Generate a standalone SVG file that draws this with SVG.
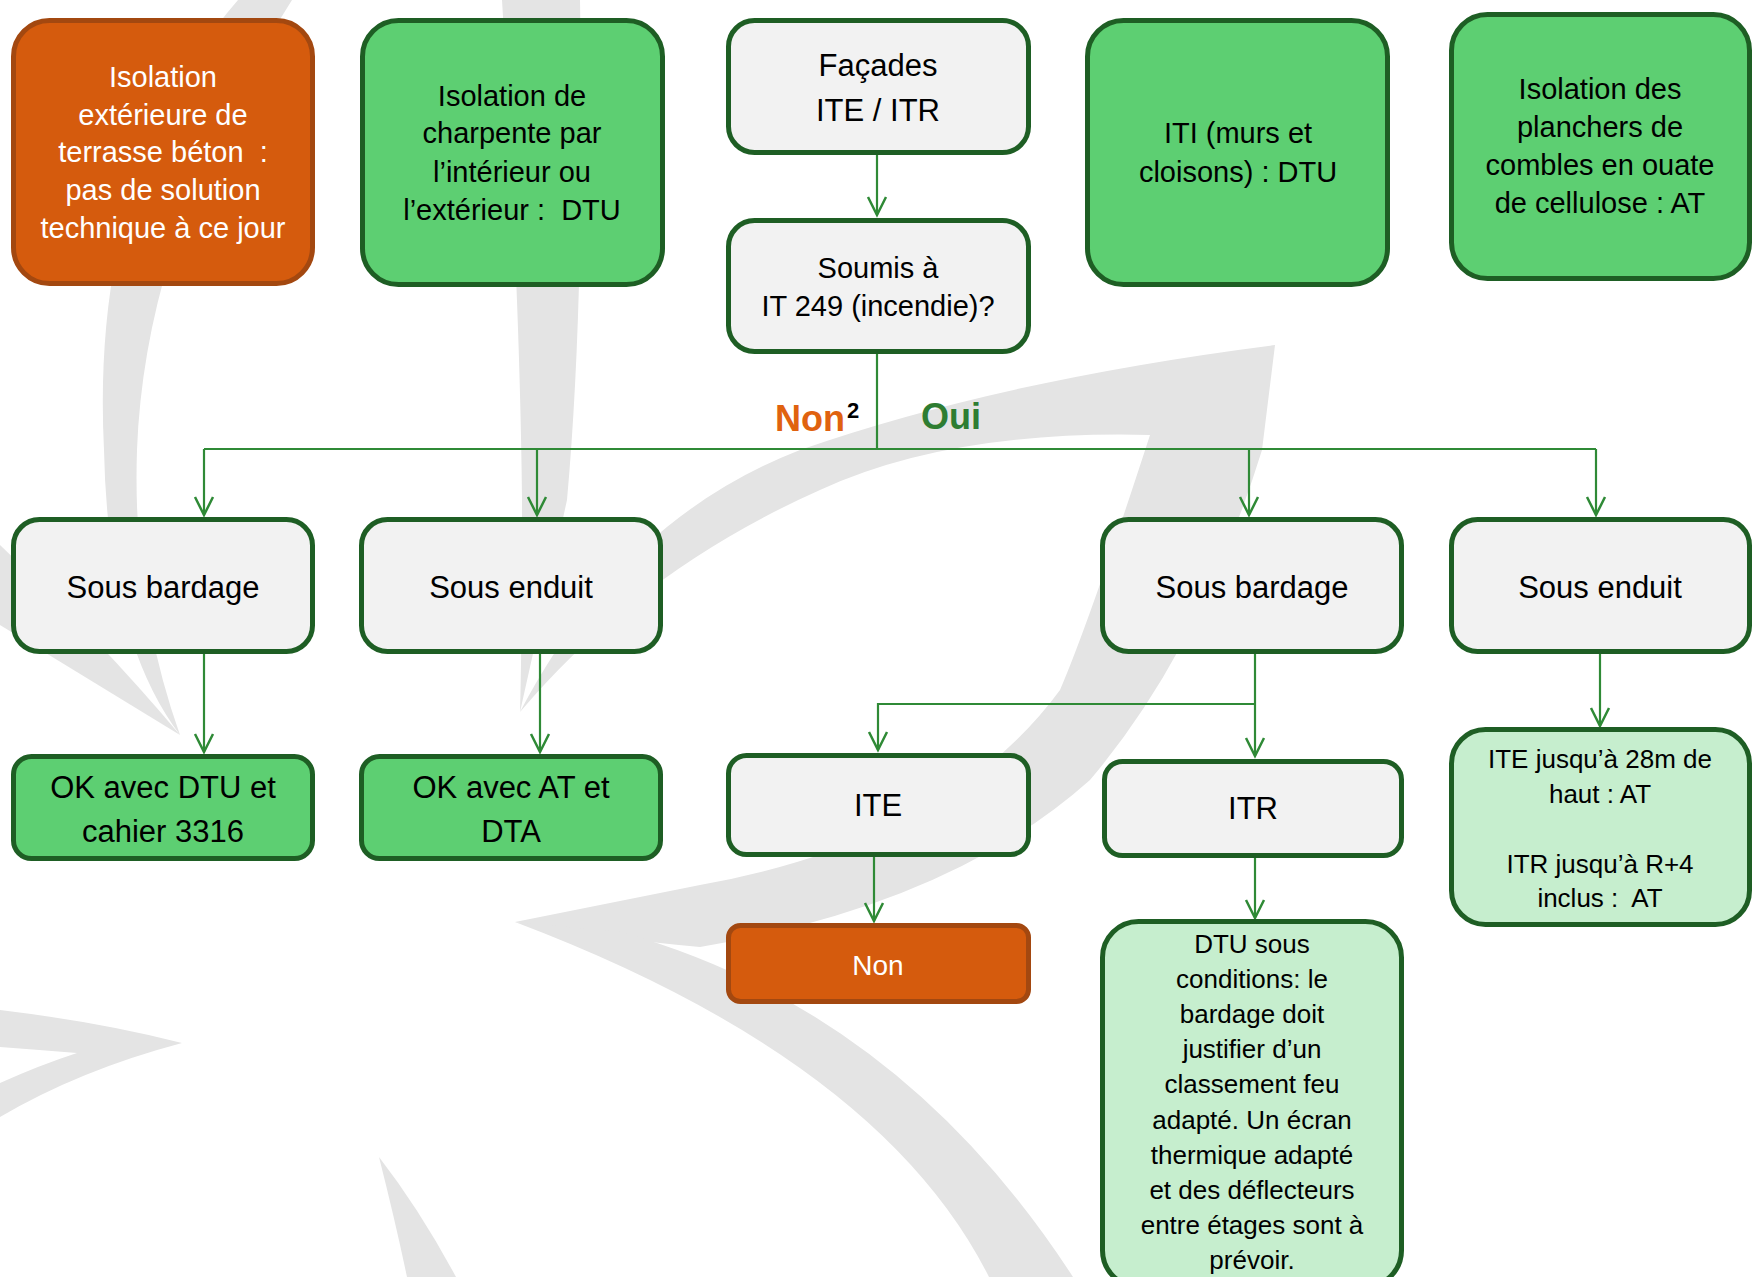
<svg xmlns="http://www.w3.org/2000/svg" width="1758" height="1277" viewBox="0 0 1758 1277">
<defs>
<style>
.t{font-family:"Liberation Sans",Arial,sans-serif;text-anchor:middle;white-space:pre;fill:#000}
.w{fill:#fff}
.s29{font-size:29px}
.s31{font-size:31px}
.s26{font-size:26px}
.box{stroke-width:5}
.org{fill:#D55B0D;stroke:#A34810}
.grn{fill:#5DCF72;stroke:#1E5E24}
.gry{fill:#F2F2F2;stroke:#1E5E24}
.lgr{fill:#C6EECE;stroke:#1E5E24}
.wm{fill:#E4E4E4}
.cn{fill:none;stroke:#2F8A36;stroke-width:2.2}
</style>
<marker id="arr" viewBox="-22 -12 26 24" refX="0" refY="0" markerWidth="26" markerHeight="24" markerUnits="userSpaceOnUse" orient="auto">
<path d="M-18,-9 L0,0 L-18,9" fill="none" stroke="#2F8A36" stroke-width="2.5"/>
</marker>
</defs>
<rect width="1758" height="1277" fill="#fff"/>
<g id="watermark">
<path class="wm" d="M238,0 Q90,170 104,450 Q108,640 180,735 Q132,600 137,450 Q145,230 292,0 Z"/>
<path class="wm" d="M0,545 Q100,640 180,735 Q90,680 0,625 Z"/>
<path class="wm" d="M502,0 Q520,300 522,500 Q522,640 520,712 Q545,600 567,500 Q585,300 580,0 Z"/>
<path class="wm" d="M520,712 Q620,520 800,450 Q1000,380 1275,345 L1262,450 Q1200,650 1090,780 Q950,905 700,947 Q620,940 515,922 Q600,905 700,885 Q950,840 1060,690 Q1090,620 1150,435 Q950,430 820,490 Q640,570 520,712 Z"/>
<path class="wm" d="M515,922 L621,932 Q900,1010 1073,1277 L989,1277 Q880,1060 515,922 Z"/>
<path class="wm" d="M379,1157 Q395,1220 407,1277 L456,1277 Q420,1210 379,1157 Z"/>
<path class="wm" d="M0,1010 Q100,1022 182,1043 Q80,1070 0,1117 L0,1083 Q40,1065 77,1053 Q40,1050 0,1047 Z"/>
</g>
<g id="connectors">
<path class="cn" d="M877,155 V215" marker-end="url(#arr)"/>
<path class="cn" d="M877,353 V449"/>
<path class="cn" d="M204,449 H1596"/>
<path class="cn" d="M204,449 V515" marker-end="url(#arr)"/>
<path class="cn" d="M537,449 V515" marker-end="url(#arr)"/>
<path class="cn" d="M1249,449 V515" marker-end="url(#arr)"/>
<path class="cn" d="M1596,449 V515" marker-end="url(#arr)"/>
<path class="cn" d="M204,654 V752" marker-end="url(#arr)"/>
<path class="cn" d="M540,654 V752" marker-end="url(#arr)"/>
<path class="cn" d="M1255,654 V756" marker-end="url(#arr)"/>
<path class="cn" d="M1255,704 H878 V750" marker-end="url(#arr)"/>
<path class="cn" d="M874,857 V921" marker-end="url(#arr)"/>
<path class="cn" d="M1255,858 V918" marker-end="url(#arr)"/>
<path class="cn" d="M1600,654 V726" marker-end="url(#arr)"/>
</g>
<g id="n-terrasse">
<rect class="box org" x="13.5" y="20.5" width="299" height="263" rx="36"/>
<text class="t w s29" x="163" y="87">Isolation</text>
<text class="t w s29" x="163" y="125">extérieure de</text>
<text class="t w s29" x="163" y="162">terrasse béton  :</text>
<text class="t w s29" x="163" y="200">pas de solution</text>
<text class="t w s29" x="163" y="238">technique à ce jour</text>
</g>
<g id="n-charpente">
<rect class="box grn" x="362.5" y="20.5" width="300" height="264" rx="36"/>
<text class="t s29" x="512" y="106">Isolation de</text>
<text class="t s29" x="512" y="143">charpente par</text>
<text class="t s29" x="512" y="182">l’intérieur ou</text>
<text class="t s29" x="512" y="220">l’extérieur :  DTU</text>
</g>
<g id="n-facades">
<rect class="box gry" x="728.5" y="20.5" width="300" height="132" rx="26"/>
<text class="t s31" x="878" y="76">Façades</text>
<text class="t s31" x="878" y="121">ITE / ITR</text>
</g>
<g id="n-soumis">
<rect class="box gry" x="728.5" y="220.5" width="300" height="131" rx="26"/>
<text class="t s29" x="878" y="278">Soumis à</text>
<text class="t s29" x="878" y="316">IT 249 (incendie)?</text>
</g>
<g id="n-iti">
<rect class="box grn" x="1087.5" y="20.5" width="300" height="264" rx="36"/>
<text class="t s29" x="1238" y="143">ITI (murs et</text>
<text class="t s29" x="1238" y="182">cloisons) : DTU</text>
</g>
<g id="n-planchers">
<rect class="box grn" x="1451.5" y="14.5" width="298" height="264" rx="36"/>
<text class="t s29" x="1600" y="99">Isolation des</text>
<text class="t s29" x="1600" y="137">planchers de</text>
<text class="t s29" x="1600" y="175">combles en ouate</text>
<text class="t s29" x="1600" y="213">de cellulose : AT</text>
</g>
<g id="labels">
<text x="845" y="431" style="font-family:'Liberation Sans',Arial,sans-serif;font-weight:bold;font-size:36px;fill:#E0620F;text-anchor:end">Non</text>
<text x="847" y="418" style="font-family:'Liberation Sans',Arial,sans-serif;font-weight:bold;font-size:22px;fill:#000">2</text>
<text x="921" y="429" style="font-family:'Liberation Sans',Arial,sans-serif;font-weight:bold;font-size:36px;fill:#2E7D32">Oui</text>
</g>
<g id="n-bardage-non">
<rect class="box gry" x="13.5" y="519.5" width="299" height="132" rx="26"/>
<text class="t s31" x="163" y="598">Sous bardage</text>
</g>
<g id="n-enduit-non">
<rect class="box gry" x="361.5" y="519.5" width="299" height="132" rx="26"/>
<text class="t s31" x="511" y="598">Sous enduit</text>
</g>
<g id="n-bardage-oui">
<rect class="box gry" x="1102.5" y="519.5" width="299" height="132" rx="26"/>
<text class="t s31" x="1252" y="598">Sous bardage</text>
</g>
<g id="n-enduit-oui">
<rect class="box gry" x="1451.5" y="519.5" width="298" height="132" rx="26"/>
<text class="t s31" x="1600" y="598">Sous enduit</text>
</g>
<g id="n-ok-dtu">
<rect class="box grn" x="13.5" y="756.5" width="299" height="102" rx="18"/>
<text class="t s31" x="163" y="798">OK avec DTU et</text>
<text class="t s31" x="163" y="842">cahier 3316</text>
</g>
<g id="n-ok-at">
<rect class="box grn" x="361.5" y="756.5" width="299" height="102" rx="18"/>
<text class="t s31" x="511" y="798">OK avec AT et</text>
<text class="t s31" x="511" y="842">DTA</text>
</g>
<g id="n-ite">
<rect class="box gry" x="728.5" y="755.5" width="300" height="99" rx="18"/>
<text class="t s31" x="878" y="816">ITE</text>
</g>
<g id="n-itr">
<rect class="box gry" x="1104.5" y="761.5" width="297" height="94" rx="18"/>
<text class="t s31" x="1253" y="819">ITR</text>
</g>
<g id="n-non">
<rect class="box org" x="728.5" y="925.5" width="300" height="76" rx="12"/>
<text class="t w" x="878" y="975" style="font-size:28px">Non</text>
</g>
<g id="n-enduit-at">
<rect class="box lgr" x="1451.5" y="729.5" width="298" height="195" rx="34"/>
<text class="t s26" x="1600" y="768">ITE jusqu’à 28m de</text>
<text class="t s26" x="1600" y="803">haut : AT</text>
<text class="t s26" x="1600" y="873">ITR jusqu’à R+4</text>
<text class="t s26" x="1600" y="907">inclus :  AT</text>
</g>
<g id="n-dtu-conditions">
<rect class="box lgr" x="1102.5" y="921.5" width="299" height="365" rx="36"/>
<text class="t s26" x="1252" y="953">DTU sous</text>
<text class="t s26" x="1252" y="988">conditions: le</text>
<text class="t s26" x="1252" y="1023">bardage doit</text>
<text class="t s26" x="1252" y="1058">justifier d’un</text>
<text class="t s26" x="1252" y="1093">classement feu</text>
<text class="t s26" x="1252" y="1129">adapté. Un écran</text>
<text class="t s26" x="1252" y="1164">thermique adapté</text>
<text class="t s26" x="1252" y="1199">et des déflecteurs</text>
<text class="t s26" x="1252" y="1234">entre étages sont à</text>
<text class="t s26" x="1252" y="1269">prévoir.</text>
</g>
</svg>
